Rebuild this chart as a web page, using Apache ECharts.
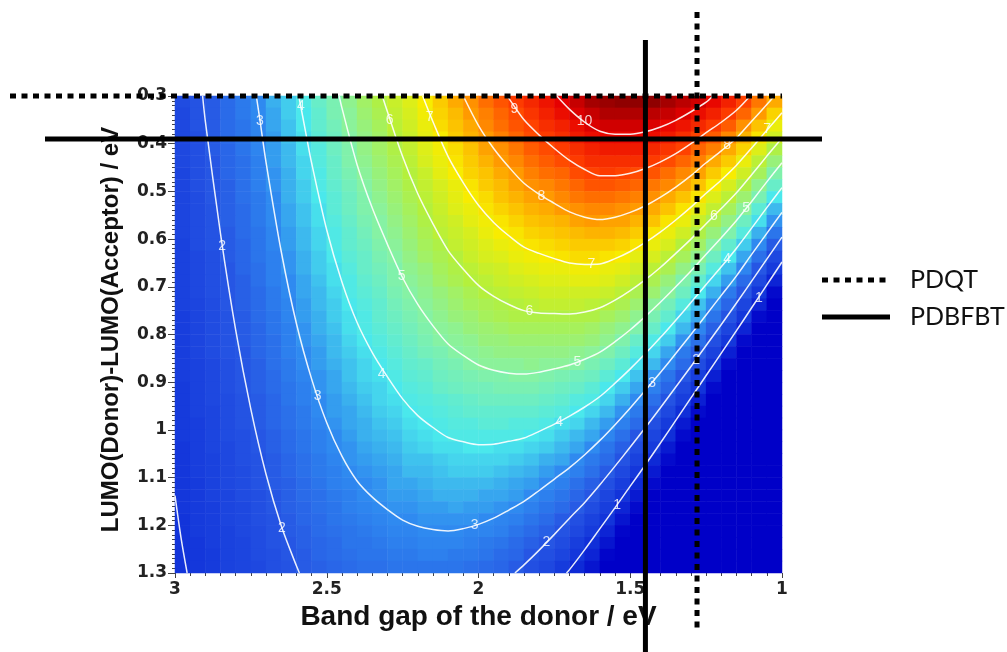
<!DOCTYPE html>
<html>
<head>
<meta charset="utf-8">
<title>Efficiency map</title>
<script src="https://cdn.jsdelivr.net/npm/echarts@6/dist/echarts.min.js"></script>
<style>
  html, body { margin: 0; padding: 0; background: #ffffff; }
  #chart { width: 1007px; height: 652px; }
</style>
</head>
<body>
<div id="chart"></div>
<script>
// Cell centres of the efficiency map: band gap (left to right) and LUMO offset (top to bottom)
const gapCenters = [2.975, 2.925, 2.875, 2.825, 2.775, 2.725, 2.675, 2.625, 2.575, 2.525,
  2.475, 2.425, 2.375, 2.325, 2.275, 2.225, 2.175, 2.125, 2.075, 2.025,
  1.975, 1.925, 1.875, 1.825, 1.775, 1.725, 1.675, 1.625, 1.575, 1.525,
  1.475, 1.425, 1.375, 1.325, 1.275, 1.225, 1.175, 1.125, 1.075, 1.025];
const offsetCenters = [0.3125, 0.3375, 0.3625, 0.3875, 0.4125, 0.4375, 0.4625, 0.4875, 0.5125, 0.5375,
  0.5625, 0.5875, 0.6125, 0.6375, 0.6625, 0.6875, 0.7125, 0.7375, 0.7625, 0.7875,
  0.8125, 0.8375, 0.8625, 0.8875, 0.9125, 0.9375, 0.9625, 0.9875, 1.0125, 1.0375,
  1.0625, 1.0875, 1.1125, 1.1375, 1.1625, 1.1875, 1.2125, 1.2375, 1.2625, 1.2875];

// Power conversion efficiency (%), one column per band gap, rows follow offsetCenters
const efficiencyByGap = [
  [1.7,1.6,1.6,1.6,1.6,1.6,1.5,1.5,1.5,1.5,1.5,1.5,1.4,1.4,1.4,1.4,1.4,1.4,1.3,1.3,1.3,1.3,1.3,1.3,1.2,1.2,1.2,1.2,1.2,1.1,1.1,1.1,1.1,1.1,1.1,1.0,1.0,1.0,1.0,1.0],
  [1.9,1.9,1.9,1.8,1.8,1.8,1.8,1.8,1.7,1.7,1.7,1.7,1.7,1.6,1.6,1.6,1.6,1.5,1.5,1.5,1.5,1.5,1.4,1.4,1.4,1.4,1.4,1.3,1.3,1.3,1.3,1.3,1.2,1.2,1.2,1.2,1.2,1.1,1.1,1.1],
  [2.1,2.1,2.1,2.1,2.1,2.0,2.0,2.0,2.0,1.9,1.9,1.9,1.9,1.8,1.8,1.8,1.8,1.7,1.7,1.7,1.7,1.7,1.6,1.6,1.6,1.6,1.5,1.5,1.5,1.5,1.4,1.4,1.4,1.4,1.3,1.3,1.3,1.3,1.2,1.2],
  [2.4,2.4,2.4,2.4,2.3,2.3,2.3,2.2,2.2,2.2,2.2,2.1,2.1,2.1,2.0,2.0,2.0,2.0,1.9,1.9,1.9,1.9,1.8,1.8,1.8,1.7,1.7,1.7,1.7,1.6,1.6,1.6,1.6,1.5,1.5,1.5,1.4,1.4,1.4,1.4],
  [2.7,2.7,2.6,2.6,2.6,2.5,2.5,2.5,2.5,2.4,2.4,2.4,2.3,2.3,2.3,2.2,2.2,2.2,2.1,2.1,2.1,2.0,2.0,2.0,2.0,1.9,1.9,1.9,1.8,1.8,1.8,1.7,1.7,1.7,1.6,1.6,1.6,1.5,1.5,1.5],
  [3.0,3.0,2.9,2.9,2.9,2.8,2.8,2.8,2.7,2.7,2.7,2.6,2.6,2.6,2.5,2.5,2.4,2.4,2.4,2.3,2.3,2.3,2.2,2.2,2.2,2.1,2.1,2.1,2.0,2.0,1.9,1.9,1.9,1.8,1.8,1.8,1.7,1.7,1.7,1.6],
  [3.4,3.3,3.3,3.2,3.2,3.2,3.1,3.1,3.0,3.0,3.0,2.9,2.9,2.8,2.8,2.8,2.7,2.7,2.6,2.6,2.5,2.5,2.5,2.4,2.4,2.3,2.3,2.3,2.2,2.2,2.1,2.1,2.1,2.0,2.0,1.9,1.9,1.9,1.8,1.8],
  [3.7,3.7,3.6,3.6,3.5,3.5,3.4,3.4,3.4,3.3,3.3,3.2,3.2,3.1,3.1,3.0,3.0,2.9,2.9,2.8,2.8,2.8,2.7,2.7,2.6,2.6,2.5,2.5,2.4,2.4,2.3,2.3,2.2,2.2,2.2,2.1,2.1,2.0,2.0,1.9],
  [4.1,4.0,4.0,3.9,3.9,3.8,3.8,3.7,3.7,3.6,3.6,3.5,3.5,3.4,3.4,3.3,3.3,3.2,3.2,3.1,3.1,3.0,3.0,2.9,2.8,2.8,2.7,2.7,2.6,2.6,2.5,2.5,2.4,2.4,2.3,2.3,2.2,2.2,2.1,2.1],
  [4.5,4.4,4.4,4.3,4.2,4.2,4.1,4.1,4.0,3.9,3.9,3.8,3.8,3.7,3.7,3.6,3.5,3.5,3.4,3.4,3.3,3.2,3.2,3.1,3.1,3.0,3.0,2.9,2.8,2.8,2.7,2.7,2.6,2.5,2.5,2.4,2.4,2.3,2.3,2.2],
  [4.8,4.8,4.7,4.6,4.6,4.5,4.5,4.4,4.3,4.3,4.2,4.1,4.1,4.0,3.9,3.9,3.8,3.7,3.7,3.6,3.5,3.5,3.4,3.3,3.3,3.2,3.2,3.1,3.0,3.0,2.9,2.8,2.8,2.7,2.6,2.6,2.5,2.4,2.4,2.3],
  [5.2,5.1,5.1,5.0,4.9,4.9,4.8,4.7,4.6,4.6,4.5,4.4,4.4,4.3,4.2,4.1,4.1,4.0,3.9,3.9,3.8,3.7,3.6,3.6,3.5,3.4,3.3,3.3,3.2,3.1,3.1,3.0,2.9,2.8,2.8,2.7,2.6,2.6,2.5,2.4],
  [5.6,5.5,5.4,5.3,5.3,5.2,5.1,5.0,4.9,4.9,4.8,4.7,4.6,4.5,4.5,4.4,4.3,4.2,4.1,4.1,4.0,3.9,3.8,3.8,3.7,3.6,3.5,3.4,3.4,3.3,3.2,3.1,3.0,3.0,2.9,2.8,2.7,2.6,2.6,2.5],
  [5.9,5.8,5.7,5.6,5.6,5.5,5.4,5.3,5.2,5.1,5.0,5.0,4.9,4.8,4.7,4.6,4.5,4.4,4.4,4.3,4.2,4.1,4.0,3.9,3.8,3.8,3.7,3.6,3.5,3.4,3.3,3.2,3.1,3.1,3.0,2.9,2.8,2.7,2.6,2.5],
  [6.3,6.2,6.1,6.0,5.9,5.8,5.7,5.6,5.5,5.4,5.3,5.2,5.1,5.0,4.9,4.9,4.8,4.7,4.6,4.5,4.4,4.3,4.2,4.1,4.0,3.9,3.8,3.7,3.6,3.5,3.4,3.3,3.3,3.2,3.1,3.0,2.9,2.8,2.7,2.6],
  [6.6,6.5,6.4,6.3,6.2,6.1,6.0,5.9,5.8,5.7,5.6,5.5,5.4,5.3,5.2,5.1,5.0,4.9,4.8,4.7,4.6,4.5,4.4,4.3,4.2,4.1,4.0,3.9,3.8,3.7,3.6,3.5,3.3,3.2,3.1,3.0,2.9,2.8,2.7,2.6],
  [7.0,6.9,6.8,6.7,6.6,6.5,6.3,6.2,6.1,6.0,5.9,5.8,5.7,5.6,5.4,5.3,5.2,5.1,5.0,4.9,4.8,4.7,4.5,4.4,4.3,4.2,4.1,4.0,3.9,3.8,3.6,3.5,3.4,3.3,3.2,3.1,3.0,2.9,2.8,2.6],
  [7.4,7.3,7.2,7.0,6.9,6.8,6.7,6.5,6.4,6.3,6.2,6.1,5.9,5.8,5.7,5.6,5.4,5.3,5.2,5.1,5.0,4.8,4.7,4.6,4.5,4.3,4.2,4.1,4.0,3.9,3.7,3.6,3.5,3.4,3.2,3.1,3.0,2.9,2.8,2.6],
  [7.8,7.6,7.5,7.4,7.2,7.1,7.0,6.8,6.7,6.6,6.4,6.3,6.2,6.0,5.9,5.8,5.6,5.5,5.4,5.2,5.1,5.0,4.8,4.7,4.6,4.4,4.3,4.2,4.1,3.9,3.8,3.7,3.5,3.4,3.3,3.1,3.0,2.9,2.7,2.6],
  [8.1,8.0,7.8,7.7,7.5,7.4,7.3,7.1,7.0,6.8,6.7,6.5,6.4,6.3,6.1,6.0,5.8,5.7,5.5,5.4,5.2,5.1,5.0,4.8,4.7,4.5,4.4,4.2,4.1,4.0,3.8,3.7,3.5,3.4,3.2,3.1,2.9,2.8,2.7,2.5],
  [8.5,8.3,8.2,8.0,7.9,7.7,7.5,7.4,7.2,7.1,6.9,6.8,6.6,6.5,6.3,6.1,6.0,5.8,5.7,5.5,5.4,5.2,5.1,4.9,4.7,4.6,4.4,4.3,4.1,4.0,3.8,3.7,3.5,3.3,3.2,3.0,2.9,2.7,2.6,2.4],
  [8.8,8.6,8.5,8.3,8.1,8.0,7.8,7.6,7.5,7.3,7.1,7.0,6.8,6.6,6.4,6.3,6.1,5.9,5.8,5.6,5.4,5.3,5.1,4.9,4.8,4.6,4.4,4.3,4.1,3.9,3.8,3.6,3.4,3.3,3.1,2.9,2.8,2.6,2.4,2.3],
  [9.1,8.9,8.8,8.6,8.4,8.2,8.0,7.9,7.7,7.5,7.3,7.1,6.9,6.8,6.6,6.4,6.2,6.0,5.9,5.7,5.5,5.3,5.1,5.0,4.8,4.6,4.4,4.2,4.1,3.9,3.7,3.5,3.3,3.2,3.0,2.8,2.6,2.4,2.3,2.1],
  [9.4,9.2,9.0,8.9,8.7,8.5,8.3,8.1,7.9,7.7,7.5,7.3,7.1,6.9,6.7,6.5,6.3,6.1,5.9,5.7,5.5,5.3,5.2,5.0,4.8,4.6,4.4,4.2,4.0,3.8,3.6,3.4,3.2,3.0,2.8,2.6,2.4,2.2,2.0,1.8],
  [9.7,9.5,9.3,9.1,8.9,8.7,8.5,8.2,8.0,7.8,7.6,7.4,7.2,7.0,6.8,6.6,6.4,6.2,5.9,5.7,5.5,5.3,5.1,4.9,4.7,4.5,4.3,4.1,3.9,3.7,3.4,3.2,3.0,2.8,2.6,2.4,2.2,2.0,1.8,1.6],
  [10.0,9.8,9.5,9.3,9.1,8.9,8.6,8.4,8.2,8.0,7.7,7.5,7.3,7.1,6.8,6.6,6.4,6.2,5.9,5.7,5.5,5.3,5.1,4.8,4.6,4.4,4.2,3.9,3.7,3.5,3.3,3.0,2.8,2.6,2.4,2.1,1.9,1.7,1.5,1.2],
  [10.3,10.1,9.8,9.6,9.3,9.1,8.9,8.6,8.4,8.1,7.9,7.6,7.4,7.2,6.9,6.7,6.4,6.2,5.9,5.7,5.5,5.2,5.0,4.7,4.5,4.2,4.0,3.8,3.5,3.3,3.0,2.8,2.5,2.3,2.1,1.8,1.6,1.3,1.1,0.8],
  [10.6,10.3,10.1,9.8,9.5,9.3,9.0,8.8,8.5,8.2,8.0,7.7,7.4,7.2,6.9,6.7,6.4,6.1,5.9,5.6,5.4,5.1,4.8,4.6,4.3,4.1,3.8,3.5,3.3,3.0,2.7,2.5,2.2,2.0,1.7,1.4,1.2,0.9,0.7,0.4],
  [10.7,10.5,10.2,9.9,9.6,9.3,9.1,8.8,8.5,8.2,7.9,7.7,7.4,7.1,6.8,6.6,6.3,6.0,5.7,5.4,5.2,4.9,4.6,4.3,4.0,3.8,3.5,3.2,2.9,2.6,2.4,2.1,1.8,1.5,1.3,1.0,0.7,0.4,0.1,0],
  [10.8,10.5,10.2,9.9,9.6,9.3,9.0,8.7,8.4,8.1,7.9,7.6,7.3,7.0,6.7,6.4,6.1,5.8,5.5,5.2,4.9,4.6,4.3,4.0,3.7,3.4,3.1,2.8,2.5,2.2,1.9,1.6,1.3,1.0,0.7,0.4,0.1,0,0,0],
  [10.8,10.5,10.2,9.9,9.6,9.3,8.9,8.6,8.3,8.0,7.7,7.4,7.1,6.7,6.4,6.1,5.8,5.5,5.2,4.9,4.5,4.2,3.9,3.6,3.3,3.0,2.7,2.4,2.0,1.7,1.4,1.1,0.8,0.5,0.2,0,0,0,0,0],
  [10.8,10.4,10.1,9.8,9.4,9.1,8.8,8.4,8.1,7.8,7.5,7.1,6.8,6.5,6.1,5.8,5.5,5.1,4.8,4.5,4.1,3.8,3.5,3.1,2.8,2.5,2.2,1.8,1.5,1.2,0.8,0.5,0.2,0,0,0,0,0,0,0],
  [10.6,10.3,9.9,9.6,9.2,8.9,8.5,8.2,7.8,7.5,7.1,6.8,6.5,6.1,5.8,5.4,5.1,4.7,4.4,4.0,3.7,3.3,3.0,2.6,2.3,1.9,1.6,1.2,0.9,0.5,0.2,0,0,0,0,0,0,0,0,0],
  [10.4,10.1,9.7,9.3,9.0,8.6,8.2,7.9,7.5,7.1,6.8,6.4,6.0,5.7,5.3,4.9,4.6,4.2,3.8,3.5,3.1,2.7,2.4,2.0,1.6,1.3,0.9,0.5,0.2,0,0,0,0,0,0,0,0,0,0,0],
  [10.2,9.8,9.4,9.0,8.6,8.3,7.9,7.5,7.1,6.7,6.3,5.9,5.6,5.2,4.8,4.4,4.0,3.6,3.3,2.9,2.5,2.1,1.7,1.3,1.0,0.6,0.2,0,0,0,0,0,0,0,0,0,0,0,0,0],
  [9.9,9.5,9.1,8.7,8.3,7.8,7.4,7.0,6.6,6.2,5.8,5.4,5.0,4.6,4.2,3.8,3.4,3.0,2.6,2.2,1.8,1.4,1.0,0.6,0.2,0,0,0,0,0,0,0,0,0,0,0,0,0,0,0],
  [9.5,9.1,8.7,8.2,7.8,7.4,7.0,6.5,6.1,5.7,5.3,4.9,4.4,4.0,3.6,3.2,2.7,2.3,1.9,1.5,1.1,0.6,0.2,0,0,0,0,0,0,0,0,0,0,0,0,0,0,0,0,0],
  [9.0,8.6,8.1,7.7,7.3,6.8,6.4,5.9,5.5,5.1,4.6,4.2,3.7,3.3,2.9,2.4,2.0,1.5,1.1,0.7,0.2,0,0,0,0,0,0,0,0,0,0,0,0,0,0,0,0,0,0,0],
  [8.4,8.0,7.5,7.1,6.6,6.1,5.7,5.2,4.8,4.3,3.9,3.4,3.0,2.5,2.0,1.6,1.1,0.7,0.2,0,0,0,0,0,0,0,0,0,0,0,0,0,0,0,0,0,0,0,0,0],
  [7.8,7.3,6.8,6.4,5.9,5.4,4.9,4.5,4.0,3.5,3.1,2.6,2.1,1.6,1.2,0.7,0.2,0,0,0,0,0,0,0,0,0,0,0,0,0,0,0,0,0,0,0,0,0,0,0]
];

// Iso-efficiency lines: [level, [[band gap, offset], ...]]
const contourPaths = [
  [1, [[3.0,1.138],[2.98,1.227],[2.96,1.30]]],
  [1, [[1.71,1.30],[1.70,1.293],[1.65,1.251],[1.60,1.207],[1.55,1.163],[1.50,1.118],[1.45,1.073],[1.40,1.027],[1.35,0.980],[1.30,0.933],[1.25,0.886],[1.20,0.839],[1.15,0.792],[1.10,0.744],[1.05,0.696],[1.00,0.648]]],
  [2, [[2.909,0.30],[2.90,0.353],[2.85,0.589],[2.80,0.791],[2.75,0.957],[2.70,1.093],[2.65,1.201],[2.60,1.285],[2.59,1.30]]],
  [2, [[1.88,1.30],[1.85,1.283],[1.80,1.252],[1.75,1.219],[1.70,1.185],[1.65,1.152],[1.60,1.115],[1.55,1.076],[1.50,1.036],[1.45,0.995],[1.40,0.953],[1.35,0.910],[1.30,0.867],[1.25,0.823],[1.20,0.779],[1.15,0.734],[1.10,0.688],[1.05,0.642],[1.00,0.596]]],
  [3, [[2.732,0.30],[2.72,0.351],[2.70,0.439],[2.65,0.626],[2.60,0.777],[2.55,0.893],[2.50,0.985],[2.45,1.055],[2.40,1.107],[2.35,1.141],[2.30,1.167],[2.25,1.189],[2.20,1.202],[2.15,1.209],[2.10,1.212],[2.05,1.207],[2.00,1.198],[1.95,1.185],[1.90,1.168],[1.85,1.150],[1.80,1.127],[1.75,1.103],[1.70,1.079],[1.65,1.052],[1.60,1.022],[1.55,0.989],[1.50,0.954],[1.45,0.917],[1.40,0.879],[1.35,0.840],[1.30,0.800],[1.25,0.759],[1.20,0.718],[1.15,0.677],[1.10,0.632],[1.05,0.588],[1.00,0.544]]],
  [4, [[2.592,0.30],[2.57,0.374],[2.55,0.440],[2.50,0.581],[2.45,0.690],[2.40,0.775],[2.35,0.838],[2.30,0.889],[2.25,0.935],[2.20,0.970],[2.15,0.995],[2.10,1.016],[2.05,1.025],[2.00,1.031],[1.95,1.030],[1.90,1.024],[1.85,1.017],[1.80,1.003],[1.75,0.988],[1.70,0.971],[1.65,0.952],[1.60,0.930],[1.55,0.902],[1.50,0.872],[1.45,0.840],[1.40,0.806],[1.35,0.770],[1.30,0.733],[1.25,0.695],[1.20,0.658],[1.15,0.619],[1.10,0.577],[1.05,0.534],[1.00,0.492]]],
  [5, [[2.459,0.30],[2.45,0.325],[2.40,0.444],[2.35,0.535],[2.30,0.611],[2.25,0.681],[2.20,0.737],[2.15,0.782],[2.10,0.820],[2.05,0.844],[2.00,0.864],[1.95,0.875],[1.90,0.881],[1.85,0.883],[1.80,0.879],[1.75,0.872],[1.70,0.864],[1.65,0.852],[1.60,0.837],[1.55,0.815],[1.50,0.790],[1.45,0.762],[1.40,0.732],[1.35,0.700],[1.30,0.667],[1.25,0.632],[1.20,0.597],[1.15,0.561],[1.10,0.521],[1.05,0.480],[1.00,0.440]]],
  [6, [[2.317,0.30],[2.30,0.333],[2.25,0.427],[2.20,0.505],[2.15,0.568],[2.10,0.624],[2.05,0.663],[2.00,0.697],[1.95,0.720],[1.90,0.737],[1.85,0.750],[1.80,0.755],[1.75,0.756],[1.70,0.757],[1.65,0.753],[1.60,0.744],[1.55,0.728],[1.50,0.708],[1.45,0.685],[1.40,0.659],[1.35,0.630],[1.30,0.600],[1.25,0.568],[1.20,0.536],[1.15,0.503],[1.10,0.465],[1.05,0.426],[1.00,0.388]]],
  [7, [[2.184,0.30],[2.15,0.354],[2.10,0.427],[2.05,0.482],[2.00,0.529],[1.95,0.565],[1.90,0.593],[1.85,0.617],[1.80,0.630],[1.75,0.641],[1.70,0.650],[1.65,0.653],[1.60,0.652],[1.55,0.641],[1.50,0.626],[1.45,0.607],[1.40,0.585],[1.35,0.560],[1.30,0.533],[1.25,0.504],[1.20,0.476],[1.15,0.445],[1.10,0.409],[1.05,0.372],[1.00,0.335]]],
  [8, [[2.05,0.30],[2.00,0.362],[1.95,0.410],[1.90,0.449],[1.85,0.483],[1.80,0.506],[1.75,0.525],[1.70,0.543],[1.65,0.554],[1.60,0.559],[1.55,0.554],[1.50,0.544],[1.45,0.530],[1.40,0.512],[1.35,0.491],[1.30,0.467],[1.25,0.440],[1.20,0.415],[1.15,0.388],[1.10,0.353],[1.05,0.318],[1.025,0.30]]],
  [9, [[1.905,0.30],[1.90,0.305],[1.85,0.350],[1.80,0.382],[1.75,0.410],[1.70,0.435],[1.65,0.454],[1.60,0.467],[1.55,0.467],[1.50,0.462],[1.45,0.452],[1.40,0.438],[1.35,0.421],[1.30,0.400],[1.25,0.377],[1.20,0.355],[1.15,0.330],[1.105,0.30]]],
  [10, [[1.742,0.30],[1.70,0.328],[1.65,0.355],[1.60,0.374],[1.55,0.380],[1.50,0.380],[1.45,0.375],[1.40,0.365],[1.35,0.351],[1.30,0.333],[1.25,0.313],[1.228,0.30]]]
];

// Inline level labels: [band gap, offset, text]
const contourLabels = [
  [1.076,0.724,'1'], [1.543,1.157,'1'],
  [2.845,0.615,'2'], [2.648,1.205,'2'], [1.776,1.236,'2'], [1.283,0.853,'2'],
  [2.72,0.352,'3'], [2.53,0.93,'3'], [2.013,1.200,'3'], [1.428,0.901,'3'],
  [2.585,0.322,'4'], [2.319,0.883,'4'], [1.734,0.983,'4'], [1.181,0.643,'4'],
  [2.253,0.678,'5'], [1.674,0.858,'5'], [1.118,0.535,'5'],
  [2.293,0.350,'6'], [1.832,0.752,'6'], [1.224,0.552,'6'],
  [2.161,0.345,'7'], [1.628,0.652,'7'], [1.049,0.370,'7'],
  [1.793,0.510,'8'], [1.181,0.404,'8'],
  [1.882,0.328,'9'],
  [1.651,0.352,'10']
];

// Donor polymers marked on the map
const polymerNames = ['PDQT', 'PDBFBT'];
const polymerGap = [1.28, 1.45];
const polymerOffset = [0.30, 0.39];
const polymerDash = [[6, 5.5], null];

// Axis ranges and tick steps
const gapRange = [1, 3], gapStep = 0.5;
const offsetRange = [0.3, 1.3], offsetStep = 0.1;

// Jet-like colour scale, one stop per 1 % efficiency from 0 to 11 %
const efficiencyColors = ['#0000c8', '#1234da', '#2656e4', '#2f8af0', '#4ae8ec', '#86f2a4',
  '#b4f03c', '#f8ec00', '#ff9a00', '#ff4200', '#e60000', '#7a0000'];

const heatData = [];
efficiencyByGap.forEach((col, i) => col.forEach((v, j) => heatData.push([i, j, v])));

const tickFmt = v => String(+(+v).toFixed(1));
const tickFont = { fontFamily: 'DejaVu Sans', fontWeight: 'bold', fontSize: 17, color: '#222' };

const series = [{
  type: 'heatmap',
  xAxisIndex: 0, yAxisIndex: 0,
  data: heatData,
  silent: true,
  emphasis: { disabled: true },
  z: 1
}];
contourPaths.forEach(([level, pts]) => {
  series.push({
    type: 'line', name: 'level ' + level,
    xAxisIndex: 1, yAxisIndex: 1,
    data: pts, smooth: 0.3, showSymbol: false, symbol: 'none', silent: true,
    lineStyle: { color: 'rgba(255,255,255,0.9)', width: 1.5 },
    z: 3
  });
});
series.push({
  type: 'scatter', xAxisIndex: 1, yAxisIndex: 1,
  data: contourLabels, symbolSize: 1, silent: true,
  itemStyle: { color: 'rgba(0,0,0,0)' },
  label: {
    show: true, position: 'inside', formatter: p => p.data[2],
    color: '#ffffff', fontSize: 14, fontFamily: 'Liberation Sans'
  },
  z: 4
});

const chart = echarts.init(document.getElementById('chart'), null, { renderer: 'canvas' });
chart.setOption({
  animation: false,
  backgroundColor: '#ffffff',
  grid: { left: 175, right: 225, top: 96, bottom: 79, containLabel: false },
  visualMap: {
    type: 'continuous', show: false, seriesIndex: 0, dimension: 2,
    min: 0, max: 11, inRange: { color: efficiencyColors }
  },
  xAxis: [
    { type: 'category', data: gapCenters, show: false, boundaryGap: true, gridIndex: 0 },
    {
      type: 'value', gridIndex: 0, position: 'bottom', inverse: true,
      min: gapRange[0], max: gapRange[1], interval: gapStep,
      name: 'Band gap of the donor / eV', nameLocation: 'middle', nameGap: 23,
      nameTextStyle: { fontFamily: 'Liberation Sans', fontWeight: 'bold', fontSize: 28, color: '#111' },
      axisLine: { show: false },
      axisTick: { show: true, length: 5, lineStyle: { color: '#444', width: 1 } },
      minorTick: { show: true, splitNumber: 10, length: 3, lineStyle: { color: '#444', width: 1 } },
      splitLine: { show: false },
      axisLabel: Object.assign({ margin: 8, formatter: tickFmt }, tickFont)
    }
  ],
  yAxis: [
    { type: 'category', data: offsetCenters, show: false, boundaryGap: true, inverse: true, gridIndex: 0 },
    {
      type: 'value', gridIndex: 0, position: 'left', inverse: true,
      min: offsetRange[0], max: offsetRange[1], interval: offsetStep,
      name: 'LUMO(Donor)-LUMO(Acceptor) / eV', nameLocation: 'middle', nameGap: 52,
      nameTextStyle: { fontFamily: 'Liberation Sans', fontWeight: 'bold', fontSize: 24, color: '#111',
        padding: [0, 0, 0, 10] },
      axisLine: { show: false },
      axisTick: { show: true, length: 7, lineStyle: { color: '#444', width: 1 } },
      minorTick: { show: true, splitNumber: 10, length: 3, lineStyle: { color: '#444', width: 1 } },
      splitLine: { show: false },
      axisLabel: Object.assign({ margin: 8, formatter: tickFmt }, tickFont)
    }
  ],
  series: series
});

// Polymer guide lines (placed through the axes) and their key
const gridRight = chart.convertToPixel({ xAxisIndex: 1 }, gapRange[0]);
const lineExtents = {
  PDQT:   { h: [10, gridRight], v: [12, 630] },
  PDBFBT: { h: [45, 822], v: [40, 652] }
};
const keyRows = { PDQT: 280, PDBFBT: 317 };
const graphics = [];
polymerNames.forEach((name, i) => {
  const px = chart.convertToPixel({ xAxisIndex: 1 }, polymerGap[i]);
  const py = chart.convertToPixel({ yAxisIndex: 1 }, polymerOffset[i]);
  const style = { stroke: '#000', lineWidth: 5, lineDash: polymerDash[i] || null, fill: null };
  const ext = lineExtents[name];
  graphics.push({ type: 'line', z: 100, silent: true,
    shape: { x1: ext.h[0], y1: py, x2: ext.h[1], y2: py }, style: Object.assign({}, style) });
  graphics.push({ type: 'line', z: 101, silent: true,
    shape: { x1: px, y1: ext.v[0], x2: px, y2: ext.v[1] }, style: Object.assign({}, style) });
  const ky = keyRows[name];
  graphics.push({ type: 'line', z: 100, silent: true,
    shape: { x1: 822, y1: ky, x2: polymerDash[i] ? 886 : 890, y2: ky }, style: Object.assign({}, style) });
  graphics.push({ type: 'text', z: 100, silent: true, x: 910, y: ky,
    style: { text: name, fontFamily: 'Lato', fontSize: 25, fill: '#111',
      textAlign: 'left', textVerticalAlign: 'middle' } });
});
chart.setOption({ graphic: graphics });
</script>
</body>
</html>
